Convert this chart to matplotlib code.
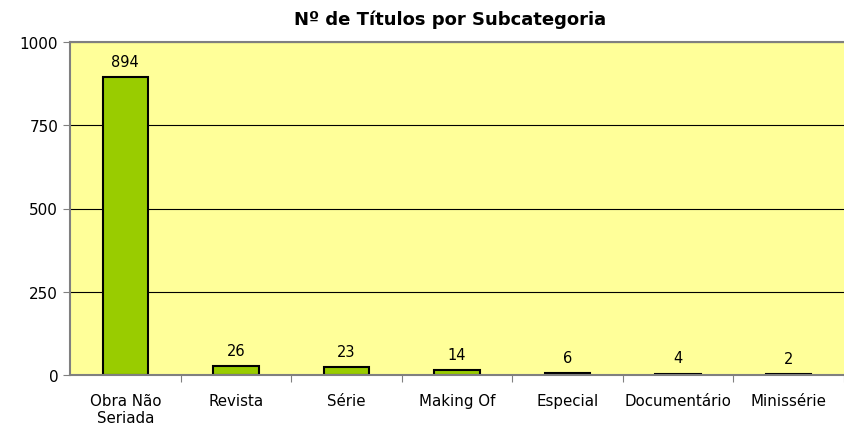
import matplotlib
matplotlib.use("Agg")
import matplotlib.pyplot as plt

# dados do gráfico
categorias = ["Obra Não\nSeriada", "Revista", "Série", "Making Of", "Especial", "Documentário", "Minissérie"]
titulos = [894, 26, 23, 14, 6, 4, 2]

plt.rcParams["font.family"] = ["DejaVu Sans"]

fig = plt.figure(figsize=(8.44, 4.27), dpi=100)
ax = fig.add_axes([70 / 844, 1 - 376 / 427, 774 / 844, 333 / 427])
ax.set_facecolor("#FFFF99")

x = range(len(categorias))
ax.bar(x, titulos, width=0.41, color="#99CC00", edgecolor="black", linewidth=1.5, zorder=3)
for i, v in enumerate(titulos):
    ax.text(i, v + 25, str(v), ha="center", va="bottom", fontsize=10.5, zorder=4)

ax.set_xlim(-0.5, len(categorias) - 0.5)
ax.set_ylim(0, 1000)
ax.set_yticks([0, 250, 500, 750, 1000])
ax.yaxis.grid(True, color="black", linewidth=0.8, zorder=1)

# ticks entre categorias
ax.set_xticks([i + 0.5 for i in range(len(categorias))])
ax.set_xticklabels([])
ax.set_xticks(list(x), minor=True)
ax.set_xticklabels(categorias, minor=True, fontsize=10.8)
ax.tick_params(axis="x", which="minor", length=0, pad=13)
ax.tick_params(axis="x", which="major", length=5, color="#808080")
ax.tick_params(axis="y", length=5, color="#808080", labelsize=11)

ax.spines["right"].set_visible(False)
for side in ["left", "bottom", "top"]:
    ax.spines[side].set_color("#808080")
    ax.spines[side].set_linewidth(1.5)
    ax.spines[side].set_zorder(5)

fig.text(450 / 844, 1 - 20 / 427, "Nº de Títulos por Subcategoria", ha="center", va="center",
         fontsize=13, fontweight="bold")

fig.savefig("out.png", dpi=100)
